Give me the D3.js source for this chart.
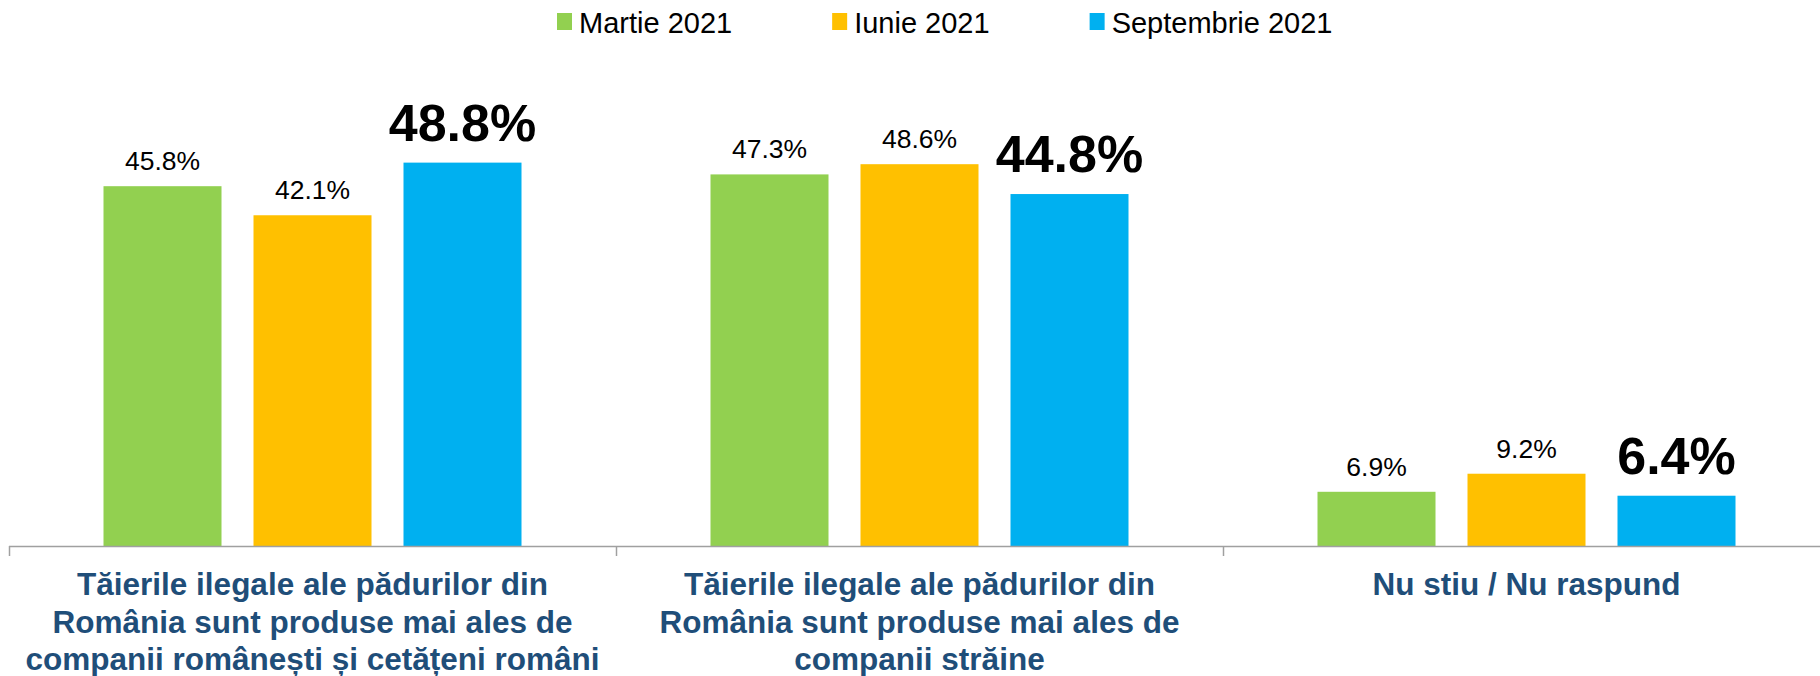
<!DOCTYPE html>
<html>
<head>
<meta charset="utf-8">
<script src="https://cdn.jsdelivr.net/npm/d3@7"></script>
<style>
  body { margin: 0; background: #fff; }
  svg { display: block; font-family: "Liberation Sans", Arial, Helvetica, sans-serif; }
</style>
</head>
<body>
<div id="chart"></div>
<script>
// categories (each one split into the lines shown under the axis)
var categories = ["c1", "c2", "c3"];
var categoryLines = [
  ["Tăierile ilegale ale pădurilor din", "România sunt produse mai ales de", "companii românești și cetățeni români"],
  ["Tăierile ilegale ale pădurilor din", "România sunt produse mai ales de", "companii străine"],
  ["Nu stiu / Nu raspund"]
];
var series = ["Martie 2021", "Iunie 2021", "Septembrie 2021"];
var martie = [45.8, 47.3, 6.9];
var iunie = [42.1, 48.6, 9.2];
var septembrie = [48.8, 44.8, 6.4];
var colors = ["#92D050", "#FFC000", "#00B0F0"];

var width = 1820, height = 676;
var baseline = 546;

var svg = d3.select("#chart").append("svg")
  .attr("width", width)
  .attr("height", height);

// scales
var x = d3.scaleBand()
  .domain(categories)
  .range([9, 1830])
  .padding(0);

var inner = d3.scaleBand()
  .domain(series)
  .range([x.bandwidth() / 2 - 209, x.bandwidth() / 2 + 209])
  .paddingInner(32 / 150)
  .paddingOuter(0);

var y = d3.scaleLinear()
  .domain([0, 69.5])
  .range([baseline, 0]);

var valuesBySeries = [martie, iunie, septembrie];
var data = [];
categories.forEach(function(c, i) {
  series.forEach(function(s, j) {
    data.push({cat: c, series: s, idx: j, value: valuesBySeries[j][i]});
  });
});

// bars
svg.selectAll(".bar")
  .data(data)
  .enter().append("rect")
  .attr("class", "bar")
  .attr("x", function(d) { return x(d.cat) + inner(d.series); })
  .attr("width", inner.bandwidth())
  .attr("y", function(d) { return y(d.value); })
  .attr("height", function(d) { return baseline - y(d.value); })
  .attr("fill", function(d) { return colors[d.idx]; });

// value labels, last wave is big and bold
svg.selectAll(".val")
  .data(data)
  .enter().append("text")
  .attr("class", "val")
  .attr("x", function(d) { return x(d.cat) + inner(d.series) + inner.bandwidth() / 2; })
  .attr("y", function(d) { return y(d.value) - (d.idx == 2 ? 22 : 16); })
  .attr("text-anchor", "middle")
  .attr("font-size", function(d) { return d.idx == 2 ? 52 : 26.5; })
  .attr("font-weight", function(d) { return d.idx == 2 ? "bold" : "normal"; })
  .attr("fill", "#000")
  .text(function(d) { return d.value.toFixed(1) + "%"; });

// x axis: line plus ticks at the category boundaries
var axis = svg.append("g").attr("class", "axis");
axis.append("line")
  .attr("x1", x.range()[0]).attr("x2", x.range()[1])
  .attr("y1", baseline + 0.5).attr("y2", baseline + 0.5)
  .attr("stroke", "#a0a0a0").attr("stroke-width", 1.5);
axis.selectAll(".tick")
  .data(categories)
  .enter().append("line")
  .attr("class", "tick")
  .attr("x1", function(d) { return x(d) + 0.5; })
  .attr("x2", function(d) { return x(d) + 0.5; })
  .attr("y1", baseline).attr("y2", baseline + 10)
  .attr("stroke", "#a0a0a0").attr("stroke-width", 1.5);

// category labels
var catText = svg.selectAll(".cat")
  .data(categories)
  .enter().append("text")
  .attr("class", "cat")
  .attr("text-anchor", "middle")
  .attr("font-size", 31.5)
  .attr("font-weight", "bold")
  .attr("fill", "#1F4E79");
catText.each(function(d, i) {
  var t = d3.select(this);
  categoryLines[i].forEach(function(line, k) {
    t.append("tspan")
      .attr("x", x(d) + x.bandwidth() / 2)
      .attr("y", 595 + k * 37.5)
      .text(line);
  });
});

// legend
var legend = svg.append("g").attr("class", "legend");
var lx = 557;
series.forEach(function(s, i) {
  legend.append("rect")
    .attr("x", lx).attr("y", 13)
    .attr("width", 15).attr("height", 17)
    .attr("fill", colors[i]);
  var txt = legend.append("text")
    .attr("x", lx + 22).attr("y", 33)
    .attr("font-size", 29)
    .attr("fill", "#000")
    .text(s);
  lx = lx + 22 + txt.node().getComputedTextLength() + 100;
});
</script>
</body>
</html>
